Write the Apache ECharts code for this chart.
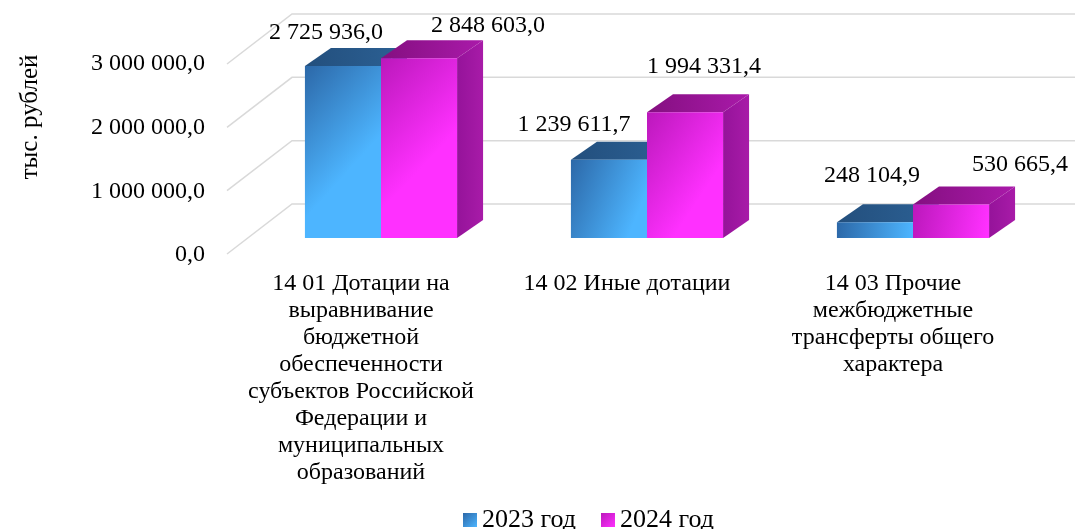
<!DOCTYPE html>
<html>
<head>
<meta charset="utf-8">
<script src="https://cdn.jsdelivr.net/npm/echarts@6/dist/echarts.min.js"></script>
<style>
  html, body { margin: 0; padding: 0; background: #fff; }
  #chart { width: 1079px; height: 529px; }
</style>
</head>
<body>
<div id="chart"></div>
<script>
const categories = [
  '14 01 Дотации на\nвыравнивание\nбюджетной\nобеспеченности\nсубъектов Российской\nФедерации и\nмуниципальных\nобразований',
  '14 02 Иные дотации',
  '14 03 Прочие\nмежбюджетные\nтрансферты общего\nхарактера'
]
const seriesNames = ['2023 год', '2024 год']
const values2023 = [2725936.0, 1239611.7, 248104.9]
const values2024 = [2848603.0, 1994331.4, 530665.4]
const yTicks = [0, 1000000, 2000000, 3000000]

const FONT = "'Liberation Serif', 'Times New Roman', serif"
const DX = 26, DY = -18 // глубина "3D" столбцов

const palette = [
  { front: ['#2c68a8', '#4db5ff'], top: ['#234f7d', '#2c6195'], side: ['#234f7d', '#2a5b8d'] },
  { front: ['#bb18bb', '#ff30ff'], top: ['#840f80', '#aa1aaa'], side: ['#95139a', '#a81ba8'] }
]
// смещения подписей значений относительно верха столбца
const labelOffsets = [
  [[-17, -33], [-35, -35], [-3, -47]],
  [[69, -33], [19, -45], [69, -40]]
]

const fmt = v => {
  const [i, d] = v.toFixed(1).split('.')
  return i.replace(/\B(?=(\d{3})+(?!\d))/g, ' ') + ',' + d
}

const grad = (a, b, x2, y2) => new echarts.graphic.LinearGradient(0, 0, x2, y2, [
  { offset: 0, color: a },
  { offset: 1, color: b }
])

const makeBar = k => (params, api) => {
  const val = api.value(1)
  const top = api.coord([api.value(0), val])
  const base = api.coord([api.value(0), 0])
  const w = api.size([1, 0])[0] * 0.286
  const x = top[0] - w + k * w
  const yt = top[1], yb = base[1]
  const c = palette[k]
  const off = labelOffsets[k][params.dataIndex]
  return {
    type: 'group',
    children: [
      {
        type: 'polygon',
        shape: { points: [[x + w, yt], [x + w + DX, yt + DY], [x + w + DX, yb + DY], [x + w, yb]] },
        style: { fill: grad(c.side[0], c.side[1], 1, 0) }
      },
      {
        type: 'polygon',
        shape: { points: [[x, yt], [x + w, yt], [x + w + DX, yt + DY], [x + DX, yt + DY]] },
        style: { fill: grad(c.top[0], c.top[1], 1, 0) }
      },
      {
        type: 'rect',
        shape: { x: x, y: yt, width: w, height: yb - yt },
        style: { fill: grad(c.front[0], c.front[1], 1, 0.4) }
      },
      {
        type: 'text',
        x: x + w / 2 + off[0],
        y: yt + off[1],
        style: {
          text: fmt(val), fill: '#000', fontSize: 24, fontFamily: FONT,
          align: 'center', verticalAlign: 'middle'
        }
      }
    ]
  }
}

const chart = echarts.init(document.getElementById('chart'))

const hiddenAxis = { show: false }

const option = {
  animation: false,
  backgroundColor: '#fff',
  textStyle: { fontFamily: FONT },
  grid: [
    { left: 248, right: 33, top: 48.7, bottom: 291 },   // передняя грань столбцов
    { left: 228, right: 53, top: 64, bottom: 274 },     // подписи осей
    { left: 292, right: 4, top: 14, bottom: 325 }       // задняя стенка
  ],
  xAxis: [
    { type: 'category', gridIndex: 0, data: categories, ...hiddenAxis },
    {
      type: 'category', gridIndex: 1, data: categories,
      axisLine: { show: false }, axisTick: { show: false },
      axisLabel: { interval: 0, margin: 15, fontSize: 24, lineHeight: 27, color: '#000', fontFamily: FONT }
    },
    { type: 'value', gridIndex: 2, min: 0, max: 1, ...hiddenAxis }
  ],
  yAxis: [
    { type: 'value', gridIndex: 0, min: 0, max: 3000000, ...hiddenAxis },
    {
      type: 'value', gridIndex: 1, min: 0, max: 3000000, interval: 1000000,
      axisLine: { show: false }, axisTick: { show: false }, splitLine: { show: false },
      axisLabel: { margin: 23, fontSize: 24, color: '#000', fontFamily: FONT, formatter: v => fmt(v) }
    },
    { type: 'value', gridIndex: 2, min: 0, max: 3000000, ...hiddenAxis }
  ],
  legend: {
    data: seriesNames,
    left: 458,
    top: 502,
    icon: 'rect',
    itemWidth: 14,
    itemHeight: 14,
    itemGap: 25,
    textStyle: { fontSize: 26, color: '#000', fontFamily: FONT }
  },
  graphic: [{
    type: 'text',
    x: 30, y: 117,
    rotation: Math.PI / 2,
    style: {
      text: 'тыс. рублей', fontSize: 25, fontFamily: FONT, fill: '#000',
      align: 'center', verticalAlign: 'middle'
    }
  }],
  series: [
    {
      type: 'custom',
      xAxisIndex: 2,
      yAxisIndex: 2,
      silent: true,
      data: yTicks.map(v => [0, v]),
      renderItem: (params, api) => {
        const p = api.coord([0, api.value(1)])
        const cs = params.coordSys
        return {
          type: 'polyline',
          shape: { points: [[cs.x - 65, p[1] + 50], [cs.x, p[1]], [cs.x + cs.width, p[1]]] },
          style: { stroke: '#d9d9d9', lineWidth: 1.5, fill: null }
        }
      }
    },
    {
      name: seriesNames[0],
      type: 'custom',
      xAxisIndex: 0,
      yAxisIndex: 0,
      itemStyle: { color: grad(palette[0].front[0], palette[0].front[1], 1, 1) },
      data: values2023.map((v, i) => [i, v]),
      encode: { x: 0, y: 1 },
      renderItem: makeBar(0)
    },
    {
      name: seriesNames[1],
      type: 'custom',
      xAxisIndex: 0,
      yAxisIndex: 0,
      itemStyle: { color: grad(palette[1].front[0], palette[1].front[1], 1, 1) },
      data: values2024.map((v, i) => [i, v]),
      encode: { x: 0, y: 1 },
      renderItem: makeBar(1)
    }
  ]
}

chart.setOption(option)
window.addEventListener('resize', () => chart.resize())
</script>
</body>
</html>
